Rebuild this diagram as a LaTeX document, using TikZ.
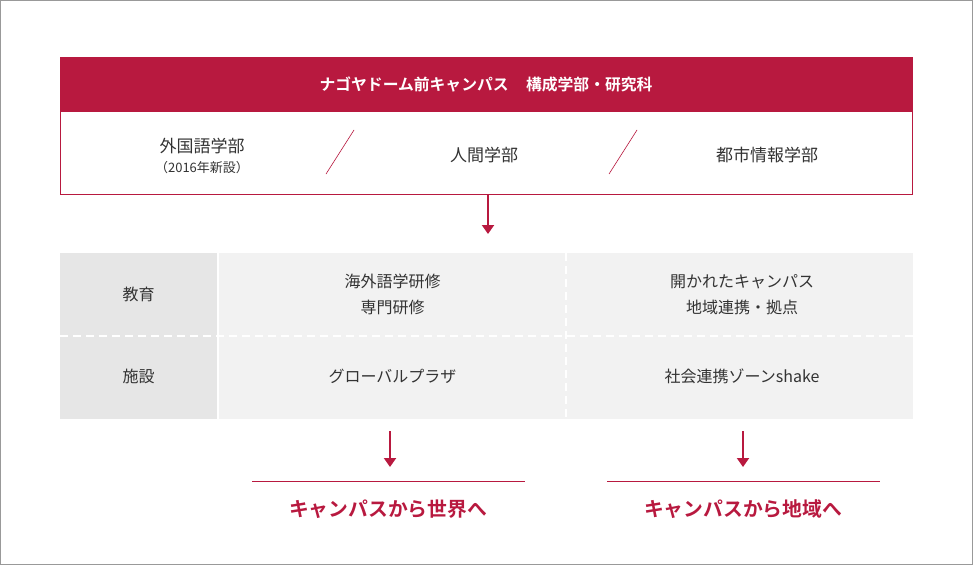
\documentclass[tikz,border=0pt]{standalone}
\usepackage{fontspec}
\setmainfont{Noto Sans CJK JP}[BoldFont={Noto Sans CJK JP Bold}]
\usepackage{xcolor}
\usepackage{tikz}
\usetikzlibrary{arrows.meta,positioning}

\definecolor{crimson}{HTML}{B8193F}
\definecolor{ink}{HTML}{333333}
\definecolor{labelgray}{HTML}{E6E6E6}
\definecolor{cellgray}{HTML}{F2F2F2}

\begin{document}
\begin{tikzpicture}[
  x=1pt, y=-1pt,
  font=\fontsize{16}{26}\selectfont, text=ink,
  dept/.style={font=\fontsize{17}{20}\selectfont, align=center},
  rowlabel/.style={fill=labelgray, minimum width=157pt, minimum height=83pt, inner sep=0pt},
  cell/.style={fill=cellgray, minimum width=347pt, minimum height=83pt, inner sep=0pt, align=center},
  sep/.style={draw=white, line width=1.6pt, dash pattern=on 8pt off 5pt},
  arr/.style={-{Triangle[length=9pt, width=12pt]}, draw=crimson, line width=2pt},
  goal/.style={text=crimson, font=\bfseries\fontsize{19.8}{22}\selectfont}
]
\useasboundingbox (0,0) rectangle (973,565);
\draw[draw=black!40, line width=1pt] (0.5,0.5) rectangle (972.5,564.5);

% campus box
\node[draw=crimson, line width=1pt, fill=white, minimum width=852pt, minimum height=83pt, inner sep=0pt] (body) at (486,152.5) {};
\node[fill=crimson, minimum width=853pt, minimum height=54pt, inner sep=0pt, text=white,
      font=\bfseries\fontsize{15.8}{18}\selectfont] (head) at (486,84) {ナゴヤドーム前キャンパス\hspace{1.1em}構成学部・研究科};
\node[dept] (lang) at (202,146) {外国語学部};
\node[font=\fontsize{13}{15}\selectfont, below=0pt of lang] (new) {（2016年新設）};
\node[dept] (human) at (484,155) {人間学部};
\node[dept] (urban) at (767,155) {都市情報学部};
\draw[draw=crimson, line width=0.6pt] (326,174) -- (354,130);
\draw[draw=crimson, line width=0.6pt] (609,174) -- (637,130);

\coordinate (a0) at (488,234);
\draw[arr] (body.south -| a0) -- (a0);

% table
\node[rowlabel] (edu) at (138.5,294.5) {教育};
\node[rowlabel] (fac) at (138.5,377) {\raisebox{2.5pt}{施設}};
\node[cell] (edu1) at (392.5,294.5) {海外語学研修\\専門研修};
\node[cell] (edu2) at (739,294.5) {\hspace*{6pt}開かれたキャンパス\\\hspace*{6pt}地域連携・拠点};
\node[cell] (fac1) at (392.5,377) {\raisebox{3pt}{グローバルプラザ}};
\node[cell] (fac2) at (739,377) {\hspace*{6pt}\raisebox{3pt}{社会連携ゾーンshake}};
\draw[sep] (edu.south west) -- (edu2.south east);
\draw[sep] (edu1.north east) -- (fac1.south east);

% outcomes
\coordinate (s1) at (390,431);
\coordinate (s2) at (743,431);
\coordinate (a1) at (390,467);
\coordinate (a2) at (743,467);
\draw[arr] (s1) -- (a1);
\draw[arr] (s2) -- (a2);
\node[goal] (world) at (388,509) {キャンパスから世界へ};
\node[goal] (local) at (743,509) {キャンパスから地域へ};
\draw[draw=crimson, line width=1pt] (252,481) -- (525,481);
\draw[draw=crimson, line width=1pt] (607,481) -- (880,481);
\end{tikzpicture}
\end{document}
